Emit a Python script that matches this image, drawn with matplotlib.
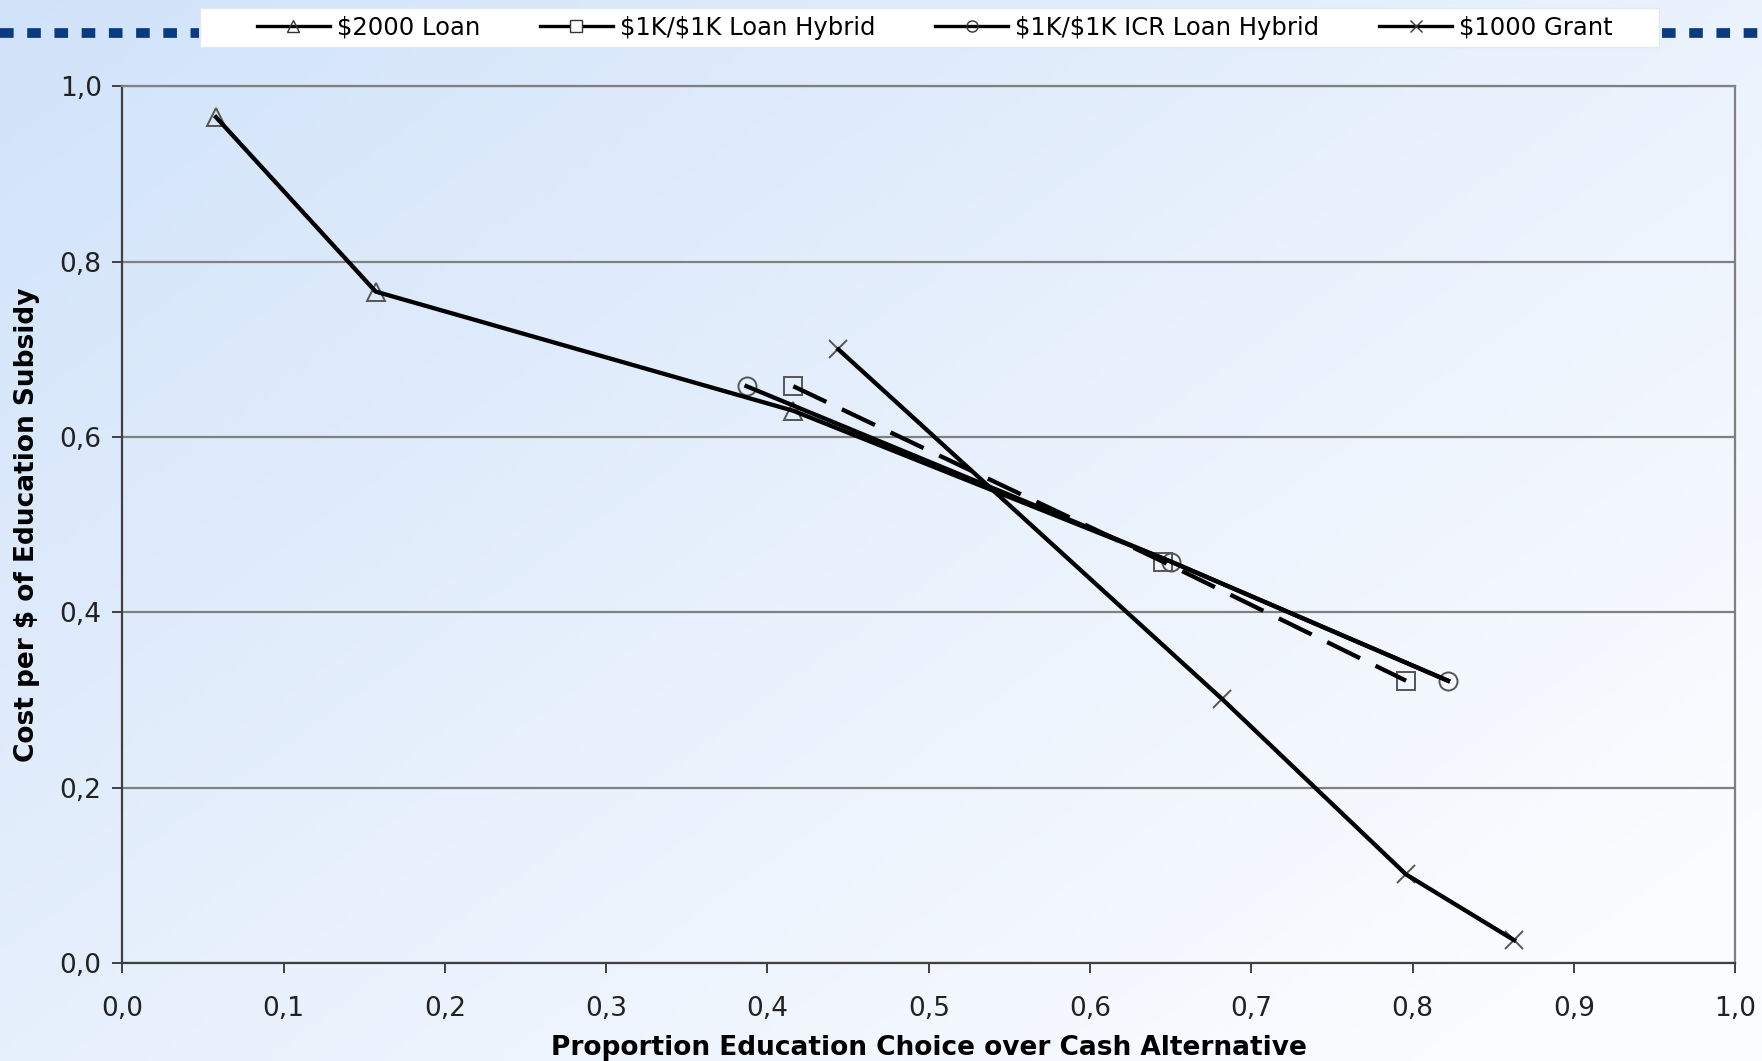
import matplotlib

matplotlib.use("Agg")
import matplotlib.pyplot as plt
import numpy as np
from matplotlib.lines import Line2D
from matplotlib.patches import Rectangle
from matplotlib.ticker import FuncFormatter, MultipleLocator

# Data
loan_x = [0.058, 0.157, 0.416, 0.650, 0.822]
loan_y = [0.965, 0.766, 0.630, 0.458, 0.322]

hybrid_x = [0.416, 0.645, 0.796]
hybrid_y = [0.658, 0.458, 0.322]

icr_x = [0.387, 0.650, 0.822]
icr_y = [0.658, 0.458, 0.322]

grant_x = [0.444, 0.682, 0.796, 0.863]
grant_y = [0.700, 0.301, 0.101, 0.026]

labels = [r"\$2000 Loan", r"\$1K/\$1K Loan Hybrid",
          r"\$1K/\$1K ICR Loan Hybrid", r"\$1000 Grant"]

plt.rcParams["font.family"] = ["DejaVu Sans"]

fig = plt.figure(figsize=(17.62, 10.61), dpi=100)

# gradient background (light blue top-left to near white bottom-right)
bg = fig.add_axes([0, 0, 1, 1], zorder=-10)
gx, gy = np.meshgrid(np.linspace(0, 1, 400), np.linspace(0, 1, 240))
t = np.clip(0.6 * gx + 0.5 * gy, 0, 1)
c0 = np.array([0.82, 0.89, 0.98])
c1 = np.array([0.985, 0.99, 1.0])
img = c0[None, None, :] * (1 - t[..., None]) + c1[None, None, :] * t[..., None]
bg.imshow(img, aspect="auto", extent=[0, 1, 0, 1], origin="upper")
bg.axis("off")

# dotted navy band on each side of the legend box
navy = "#0a3a80"
fig.add_artist(Line2D([0.0, 0.113], [0.969, 0.969], transform=fig.transFigure,
                      color=navy, lw=7, dashes=(1.4, 1.4), solid_capstyle="butt"))
fig.add_artist(Line2D([0.943, 1.0], [0.969, 0.969], transform=fig.transFigure,
                      color=navy, lw=7, dashes=(1.4, 1.4), solid_capstyle="butt"))
fig.add_artist(Rectangle((0.1135, 0.9557), 0.828, 0.0368, transform=fig.transFigure,
                         facecolor="white", edgecolor="#e0e8f4", lw=1, zorder=1))

ax = fig.add_axes([0.0695, 0.0924, 0.9152, 0.8261])
ax.patch.set_alpha(0)

mk = dict(ls="none", markersize=13, markerfacecolor="none",
          markeredgecolor="#555555", markeredgewidth=1.4, zorder=2)
ax.plot(loan_x[:3], loan_y[:3], marker="^", **mk)
ax.plot(hybrid_x, hybrid_y, marker="s", **mk)
ax.plot(icr_x, icr_y, marker="o", **mk)
ax.plot(grant_x, grant_y, marker="x", **mk)

lw = 3.1
ax.plot(loan_x, loan_y, color="black", lw=lw, zorder=3)
ax.plot(hybrid_x, hybrid_y, color="black", lw=lw, dashes=(8.5, 4), zorder=3)
ax.plot(icr_x, icr_y, color="black", lw=lw, zorder=3)
ax.plot(grant_x, grant_y, color="black", lw=lw, zorder=3)

ax.set_xlim(0, 1)
ax.set_ylim(0, 1)
ax.xaxis.set_major_locator(MultipleLocator(0.1))
ax.yaxis.set_major_locator(MultipleLocator(0.2))
fmt = FuncFormatter(lambda v, p: f"{v:.1f}".replace(".", ","))
ax.xaxis.set_major_formatter(fmt)
ax.yaxis.set_major_formatter(fmt)
ax.grid(axis="y", color="#808080", lw=1.6)
ax.set_axisbelow(True)
for s in ax.spines.values():
    s.set_color("#808080")
    s.set_linewidth(1.6)
ax.spines["left"].set_color("#404040")
ax.spines["bottom"].set_color("#404040")
ax.tick_params(axis="both", direction="out", length=7, width=1.4, color="#404040",
               labelsize=19, labelcolor="#222222")
ax.tick_params(axis="x", pad=17)
ax.tick_params(axis="y", pad=8)

ax.set_xlabel("Proportion Education Choice over Cash Alternative",
              fontsize=19, fontweight="bold", labelpad=9)
ax.set_ylabel("Cost per $ of Education Subsidy", fontsize=19, fontweight="bold",
              labelpad=14)

handles = [
    Line2D([], [], color="black", lw=2.4, marker="^", markersize=8,
           markerfacecolor="none", markeredgecolor="#333333"),
    Line2D([], [], color="black", lw=2.4, marker="s", markersize=8,
           markerfacecolor="white", markeredgecolor="#333333"),
    Line2D([], [], color="black", lw=2.4, marker="o", markersize=8,
           markerfacecolor="none", markeredgecolor="#333333"),
    Line2D([], [], color="black", lw=2.4, marker="x", markersize=8,
           markeredgecolor="#333333"),
]
leg = fig.legend(handles, labels, loc="center", bbox_to_anchor=(0.5306, 0.974),
                 ncol=4, fontsize=17.5, frameon=False,
                 handlelength=3.0, handletextpad=0.3, columnspacing=2.45)

plt.savefig("out.png", dpi=100)
plt.close()
